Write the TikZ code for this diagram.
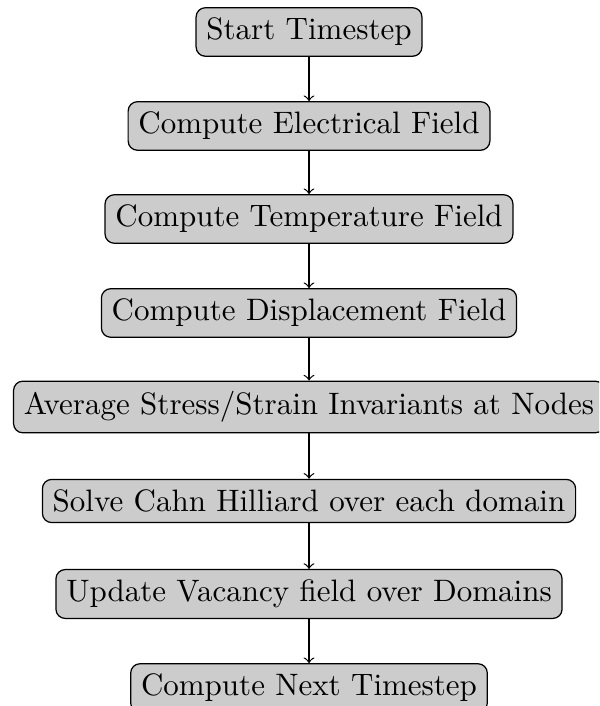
\documentclass[tikz,border=0pt]{standalone}
\begin{document}
\begin{tikzpicture}[x=0.32258pt,y=-0.32258pt,
  stepbox/.style={draw,fill=gray!40,rounded corners=3pt,inner sep=0.3333em},
  flow/.style={->}]
\useasboundingbox (0,0) rectangle (599,706);
\begin{scope}
\clip (0,0) rectangle (599,706);
\node[stepbox] (n1) at (309,32) {Start Timestep};
\node[stepbox] (n2) at (309,126) {Compute Electrical Field};
\node[stepbox] (n3) at (309,219) {Compute Temperature Field};
\node[stepbox] (n4) at (309,313) {Compute Displacement Field};
\node[stepbox] (n5) at (309,407) {Average Stress/Strain Invariants at Nodes};
\node[stepbox] (n6) at (309,501) {Solve Cahn Hilliard over each domain};
\node[stepbox] (n7) at (309,594) {Update Vacancy field over Domains};
\node[stepbox] (n8) at (309,688) {Compute Next Timestep};
\draw[flow] (n1) -- (n2);
\draw[flow] (n2) -- (n3);
\draw[flow] (n3) -- (n4);
\draw[flow] (n4) -- (n5);
\draw[flow] (n5) -- (n6);
\draw[flow] (n6) -- (n7);
\draw[flow] (n7) -- (n8);
\end{scope}
\end{tikzpicture}
\end{document}
